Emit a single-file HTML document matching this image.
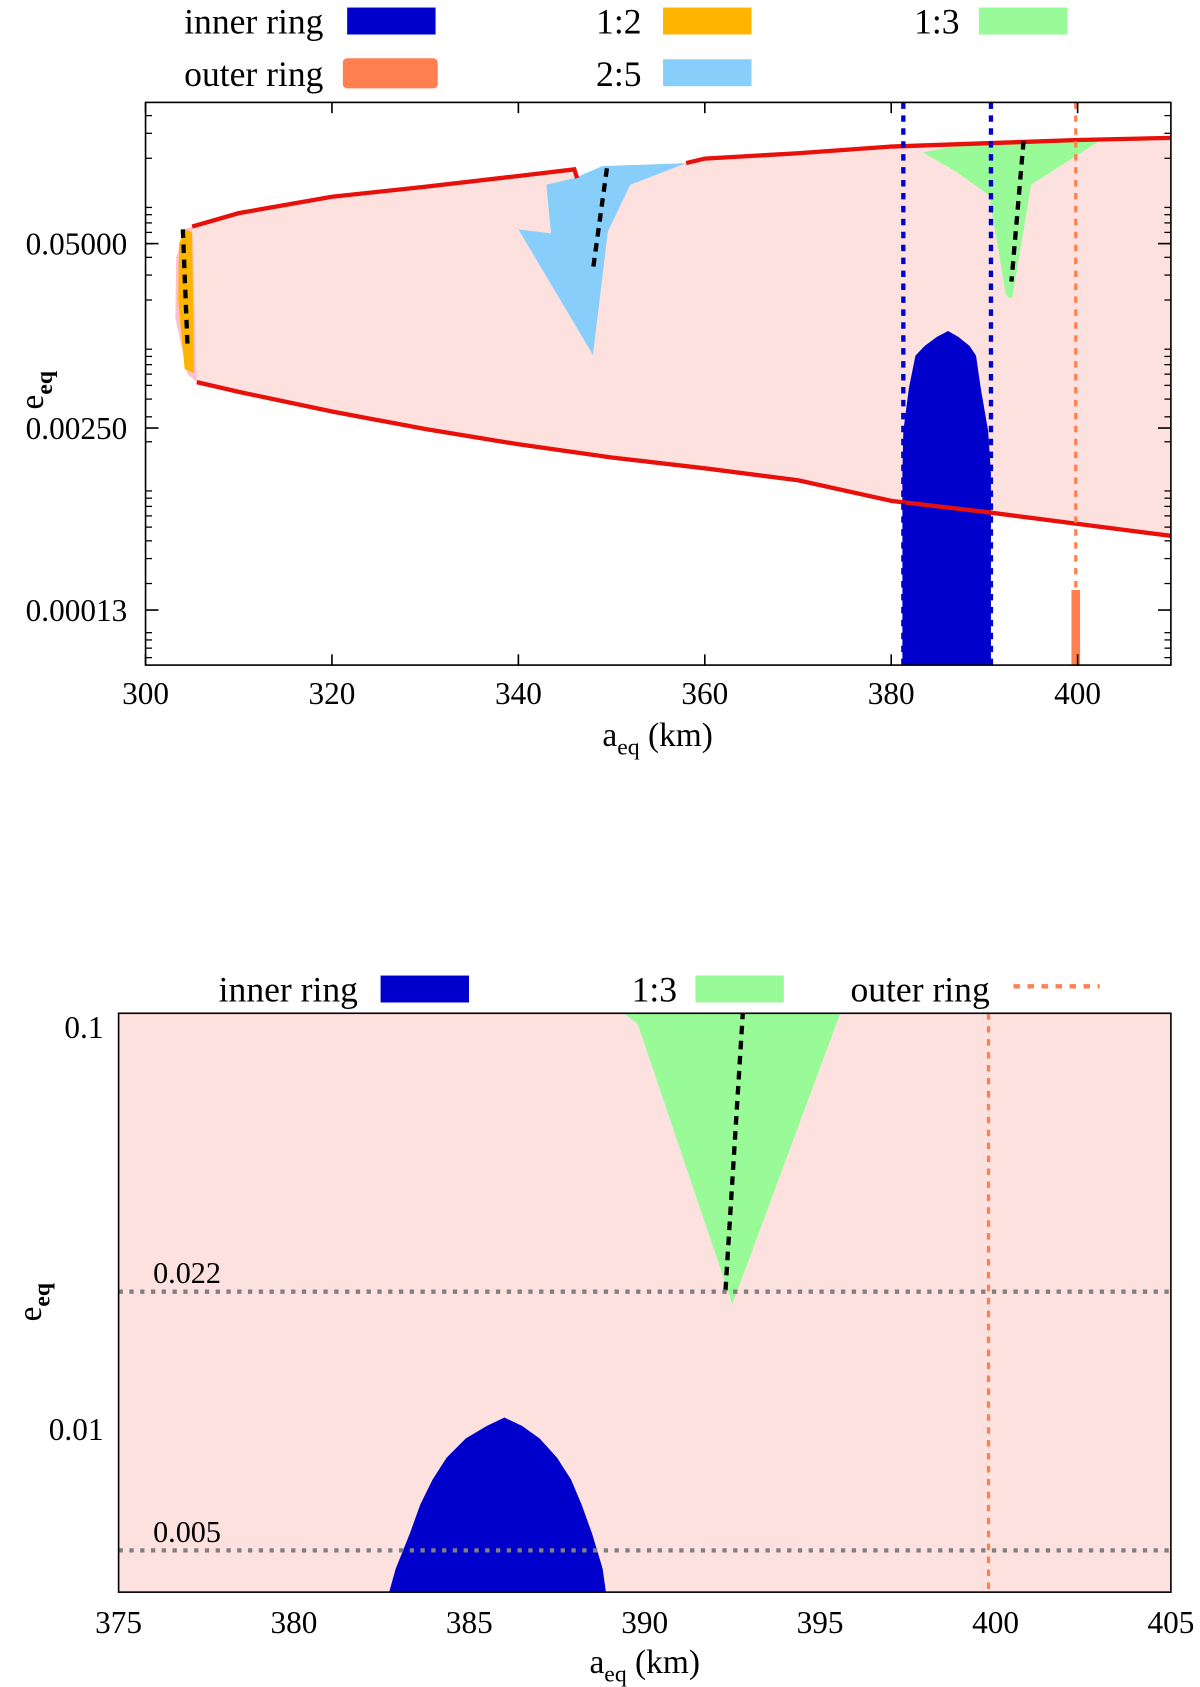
<!DOCTYPE html>
<html><head><meta charset="utf-8"><style>
html,body{margin:0;padding:0;background:#fff;}
svg{display:block;font-family:"Liberation Serif",serif;}
</style></head><body>
<svg id="chart" width="1200" height="1687" viewBox="0 0 1113 1565" preserveAspectRatio="none" xmlns="http://www.w3.org/2000/svg">
<defs>
<clipPath id="clipT"><rect x="135" y="95" width="951" height="522"/></clipPath>
<clipPath id="clipB"><rect x="110" y="940" width="976" height="537"/></clipPath>
</defs>
<g id="legendTop" font-size="33">
<g><text x="300" y="31" text-anchor="end">inner ring</text><rect x="322" y="7" width="82" height="25" fill="#0000cc"/></g>
<g><text x="595" y="31" text-anchor="end">1:2</text><rect x="615" y="7" width="82" height="25" fill="#ffb400"/></g>
<g><text x="890" y="31" text-anchor="end">1:3</text><rect x="908" y="7" width="82" height="25" fill="#98fb98"/></g>
<g><text x="300" y="80" text-anchor="end">outer ring</text><rect x="318" y="54" width="88" height="28" rx="4" fill="#ff7f50"/></g>
<g><text x="595" y="80" text-anchor="end">2:5</text><rect x="615" y="55" width="82" height="25" fill="#87cefa"/></g>
</g>
<g id="legendBot" font-size="33">
<g><text x="332" y="929" text-anchor="end">inner ring</text><rect x="353" y="905" width="82" height="25" fill="#0000cc"/></g>
<g><text x="628" y="929" text-anchor="end">1:3</text><rect x="645" y="905" width="82" height="25" fill="#98fb98"/></g>
<g><text x="918" y="929" text-anchor="end">outer ring</text><line x1="940" y1="915" x2="1020" y2="915" stroke="#ff7f50" stroke-width="4" stroke-dasharray="6,7"/></g>
</g>
<g id="gtop" clip-path="url(#clipT)"></g>
<g id="gbot" clip-path="url(#clipB)"></g>
<g id="gaxes"></g>
</svg>
<script>
// ---- top panel data ----
const upperA1 = [305, 310, 320, 330, 340, 346, 346.3];
const upperE1 = [0.066, 0.082, 0.107, 0.126, 0.150, 0.167, 0.145];
const upperA2 = [358, 360, 370, 380, 390, 400, 410];
const upperE2 = [0.185, 0.199, 0.217, 0.242, 0.255, 0.269, 0.2786];
const lowerA = [305.5, 310, 320, 330, 340, 350, 360, 370, 380, 390, 400, 410];
const lowerE = [0.00527, 0.0045, 0.00327, 0.00246, 0.00192, 0.00155, 0.0013, 0.00107, 0.000766, 0.000641, 0.000527, 0.000434];
const leftEdgeA = [305.5, 304.5, 303.2, 303.3, 304.2, 305];
const leftEdgeE = [0.00527, 0.006, 0.015, 0.04, 0.063, 0.066];
const res12A = [304.2, 305.0, 305.2, 304.2, 303.5, 303.6];
const res12E = [0.063, 0.06, 0.0061, 0.0065, 0.02, 0.05];
const res25A = [349, 358, 352, 349.6, 348, 340, 343.5, 343, 346];
const res25E = [0.176, 0.185, 0.130, 0.061, 0.0082, 0.063, 0.059, 0.130, 0.145];
const res13A = [383.4, 388, 402.5, 395, 393, 392.7, 392.3, 390.5, 387];
const res13E = [0.22, 0.25, 0.269, 0.13, 0.021, 0.0205, 0.022, 0.11, 0.16];
const dash12A = [304, 304.5], dash12E = [0.063, 0.0095];
const dash25A = [349.5, 348], dash25E = [0.17, 0.0327];
const dash13A = [394.2, 392.9], dash13E = [0.265, 0.027];
const innerTopE = [0.00004, 0.0012, 0.00238, 0.0048, 0.0081, 0.0095, 0.011, 0.0121];
const innerTopL = [381.2, 381.2, 381.3, 381.9, 382.6, 383.6, 384.9, 386.1];
const innerTopR = [390.7, 390.7, 390.4, 389.6, 389.1, 388.4, 387.2, 386.1];
const innerEdgesTop = [381.3, 390.7];
const outerRingTop = 399.8;
const outerBarE = [0.00004, 0.00018];
const xTicksT = [300, 320, 340, 360, 380, 400];
const yTicksT = [0.05, 0.0025, 0.00013];
const yTickLabelsT = ["0.05000", "0.00250", "0.00013"];
// ---- bottom panel data ----
const innerBotE = [0.0039, 0.0045, 0.0055, 0.0065, 0.0075, 0.0085, 0.0095, 0.0102, 0.0107];
const innerBotL = [382.7, 382.9, 383.3, 383.6, 383.95, 384.35, 384.9, 385.5, 386];
const innerBotR = [388.9, 388.8, 388.5, 388.2, 387.9, 387.5, 387.0, 386.5, 386];
const green13A = [389.3, 389.8, 392.5, 395.6];
const green13E = [0.11, 0.102, 0.0205, 0.11];
const dashBotA = [392.8, 392.3], dashBotE = [0.11, 0.022];
const refLinesE = [0.022, 0.005];
const refLabels = ["0.022", "0.005"];
const outerRingBot = 399.8;
const xTicksB = [375, 380, 385, 390, 395, 400, 405];
const yTicksB = [0.1, 0.01];
const yTickLabelsB = ["0.1", "0.01"];

const NS = "http://www.w3.org/2000/svg";
const L = Math.log10;
const xT = a => 135 + (a - 300) * 8.645;
const yT = e => 226 - (L(e) - L(0.05)) * 131.5;
const xB = a => 110 + (a - 375) * (976 / 30);
const yB = e => 953 - (L(e) + 1) * 373;
function mk(parent, tag, attrs, txt) {
  const el = document.createElementNS(NS, tag);
  for (const k in attrs) el.setAttribute(k, attrs[k]);
  if (txt !== undefined) el.textContent = txt;
  parent.appendChild(el);
  return el;
}
const pts = (A, E, fx, fy) => A.map((a, i) => fx(a) + "," + fy(E[i])).join(" ");
const gTop = document.getElementById("gtop"), gBot = document.getElementById("gbot"), gAxes = document.getElementById("gaxes");

let reg = upperA1.map((a, i) => [a, upperE1[i]]).concat(upperA2.map((a, i) => [a, upperE2[i]]))
  .concat(lowerA.map((a, i) => [a, lowerE[i]]).reverse()).concat(leftEdgeA.map((a, i) => [a, leftEdgeE[i]]));
let el = mk(gTop, "polygon", {points: reg.map(p => xT(p[0]) + "," + yT(p[1])).join(" "), fill: "#fde1df"});


el = mk(gTop, "polygon", {points: pts(leftEdgeA, leftEdgeE, xT, yT), fill: "#ffc0cb"});


el = mk(gTop, "polygon", {points: pts(res12A, res12E, xT, yT), fill: "#ffb400"});


el = mk(gTop, "polygon", {points: pts(res25A, res25E, xT, yT), fill: "#87cefa"});


el = mk(gTop, "polygon", {points: pts(res13A, res13E, xT, yT), fill: "#98fb98"});


let ip = innerTopE.map((e, i) => xT(innerTopL[i]) + "," + yT(e)).concat(innerTopE.map((e, i) => xT(innerTopR[i]) + "," + yT(e)).reverse());
el = mk(gTop, "polygon", {points: ip.join(" "), fill: "#0000cc"});


el = mk(gTop, "polyline", {points: pts(upperA1, upperE1, xT, yT), fill: "none", stroke: "#e8100b", "stroke-width": 4});


el = mk(gTop, "polyline", {points: pts(upperA2, upperE2, xT, yT), fill: "none", stroke: "#e8100b", "stroke-width": 4});


el = mk(gTop, "polyline", {points: pts(lowerA, lowerE, xT, yT), fill: "none", stroke: "#e8100b", "stroke-width": 4});


[[dash12A, dash12E, 'dash-1-2'], [dash25A, dash25E, 'dash-2-5'], [dash13A, dash13E, 'dash-1-3']].forEach(d => {
  const l = mk(gTop, "polyline", {points: pts(d[0], d[1], xT, yT), fill: "none", stroke: "#000", "stroke-width": 4, "stroke-dasharray": "8,6"});
  
  
});
innerEdgesTop.forEach(a => {
  const l = mk(gTop, "line", {x1: xT(a), x2: xT(a), y1: 95, y2: 617, stroke: "#0000cc", "stroke-width": 4, "stroke-dasharray": "6,6"});
  
  
});
el = mk(gTop, "line", {x1: xT(outerRingTop), x2: xT(outerRingTop), y1: 95, y2: 617, stroke: "#ff7f50", "stroke-width": 3, "stroke-dasharray": "6,6"});


el = mk(gTop, "rect", {x: xT(outerRingTop) - 4, y: yT(outerBarE[1]), width: 8, height: yT(outerBarE[0]) - yT(outerBarE[1]), fill: "#ff7f50"});



el = mk(gBot, "rect", {x: 110, y: 940, width: 976, height: 537, fill: "#fde1df"});


el = mk(gBot, "polygon", {points: pts(green13A, green13E, xB, yB), fill: "#98fb98"});


let bp = innerBotE.map((e, i) => xB(innerBotL[i]) + "," + yB(e)).concat(innerBotE.map((e, i) => xB(innerBotR[i]) + "," + yB(e)).reverse());
el = mk(gBot, "polygon", {points: bp.join(" "), fill: "#0000cc"});


el = mk(gBot, "polyline", {points: pts(dashBotA, dashBotE, xB, yB), fill: "none", stroke: "#000", "stroke-width": 4, "stroke-dasharray": "8,6"});


refLinesE.forEach((e, i) => {
  const l = mk(gBot, "line", {x1: 110, x2: 1086, y1: yB(e), y2: yB(e), stroke: "#808080", "stroke-width": 4, "stroke-dasharray": "4,6"});
  
  
  const t = mk(gBot, "text", {x: 142, y: yB(e) - 8, "font-size": 28}, refLabels[i]);
  
  
});
el = mk(gBot, "line", {x1: xB(outerRingBot), x2: xB(outerRingBot), y1: 940, y2: 1477, stroke: "#ff7f50", "stroke-width": 3, "stroke-dasharray": "6,6"});



el = mk(gAxes, "rect", {x: 135, y: 95, width: 951, height: 522, fill: "none", stroke: "#000", "stroke-width": 1.5});


xTicksT.forEach(v => {
  const x = xT(v);
  mk(gAxes, "line", {x1: x, x2: x, y1: 617, y2: 607, stroke: "#000", "stroke-width": 1.5});
  mk(gAxes, "line", {x1: x, x2: x, y1: 95, y2: 105, stroke: "#000", "stroke-width": 1.5});
  const t = mk(gAxes, "text", {x: x, y: 653, "font-size": 29, "text-anchor": "middle"}, v);
  
  
});
yTicksT.forEach((v, i) => {
  const y = yT(v);
  mk(gAxes, "line", {x1: 135, x2: 147, y1: y, y2: y, stroke: "#000", "stroke-width": 1.5});
  mk(gAxes, "line", {x1: 1086, x2: 1074, y1: y, y2: y, stroke: "#000", "stroke-width": 1.5});
  const t = mk(gAxes, "text", {x: 118, y: y + 10, "font-size": 29, "text-anchor": "end"}, yTickLabelsT[i]);
  
  
});
for (let d = -5; d <= 0; d++) for (let m = 2; m <= 9; m++) {
  const e = m * Math.pow(10, d), y = yT(e);
  if (y > 97 && y < 615) {
    mk(gAxes, "line", {x1: 135, x2: 141, y1: y, y2: y, stroke: "#000", "stroke-width": 1.2});
    mk(gAxes, "line", {x1: 1086, x2: 1080, y1: y, y2: y, stroke: "#000", "stroke-width": 1.2});
  }
}
let t = mk(gAxes, "text", {x: 610, y: 692, "font-size": 31, "text-anchor": "middle"});
t.innerHTML = 'a<tspan font-size="22" dy="8">eq</tspan><tspan dy="-8"> (km)</tspan>';


t = mk(gAxes, "text", {x: 0, y: 0, "font-size": 31, transform: "translate(40,362) rotate(-90)", "text-anchor": "middle"});
t.innerHTML = 'e<tspan font-size="22" dy="8" font-weight="bold">eq</tspan>';



el = mk(gAxes, "rect", {x: 110, y: 940, width: 976, height: 537, fill: "none", stroke: "#000", "stroke-width": 1.5});


xTicksB.forEach(v => {
  const tt = mk(gAxes, "text", {x: xB(v), y: 1515, "font-size": 29, "text-anchor": "middle"}, v);
  
  
});
yTicksB.forEach((v, i) => {
  const tt = mk(gAxes, "text", {x: 96, y: yB(v) + 10, "font-size": 29, "text-anchor": "end"}, yTickLabelsB[i]);
  
  
});
t = mk(gAxes, "text", {x: 598, y: 1552, "font-size": 31, "text-anchor": "middle"});
t.innerHTML = 'a<tspan font-size="22" dy="8">eq</tspan><tspan dy="-8"> (km)</tspan>';


t = mk(gAxes, "text", {x: 0, y: 0, "font-size": 31, transform: "translate(38,1208) rotate(-90)", "text-anchor": "middle"});
t.innerHTML = 'e<tspan font-size="22" dy="8" font-weight="bold">eq</tspan>';


</script>
</body></html>
